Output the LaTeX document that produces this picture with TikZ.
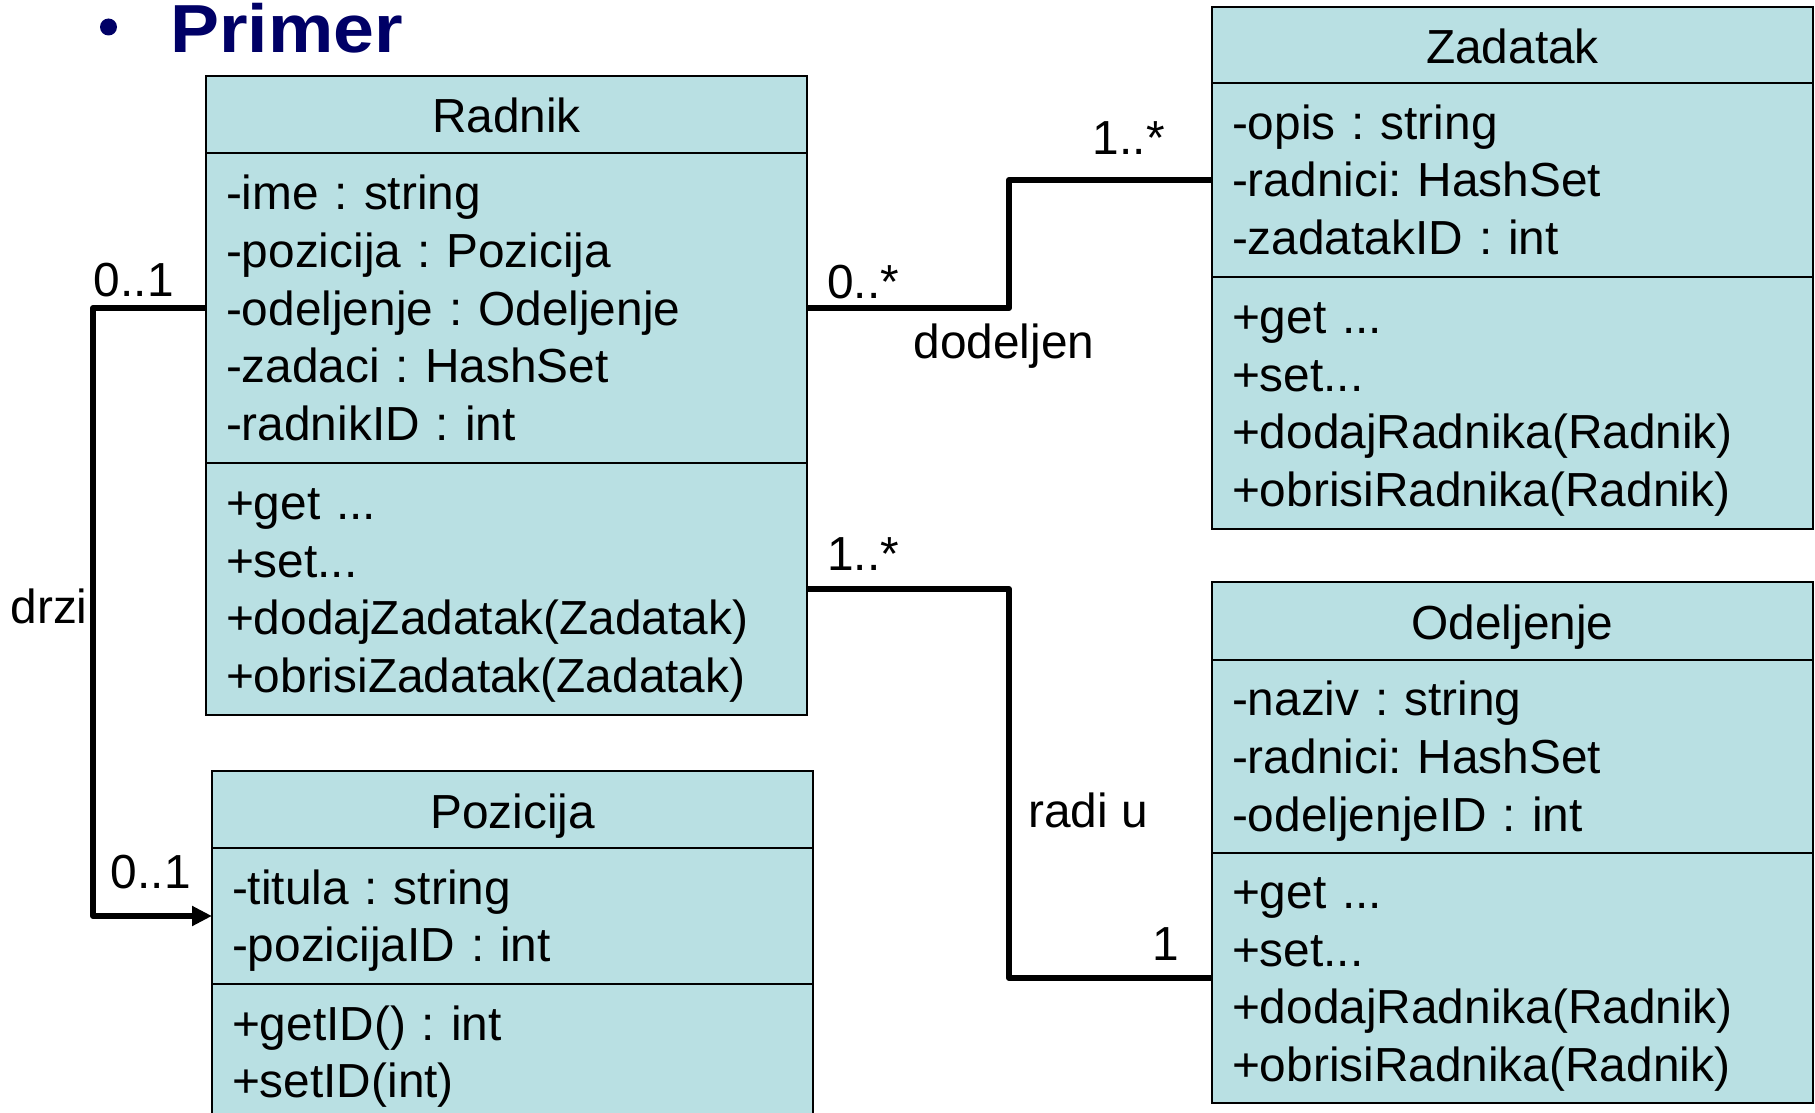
\documentclass[tikz,border=0pt]{standalone}
\usepackage{fontspec}
\setmainfont{Liberation Sans}
\usepackage{graphicx}
\usetikzlibrary{arrows.meta}
\definecolor{classblue}{RGB}{185,224,227}
\definecolor{titlenavy}{RGB}{0,0,102}
\newcommand{\bodystrut}{\rule[-5.5pt]{0pt}{28pt}}
\newcommand{\headstrut}{\rule[-5.5pt]{0pt}{29.5pt}}
\frenchspacing

\begin{document}
\begin{tikzpicture}[x=0.5pt,y=-0.5pt,
      txt/.style={font=\fontsize{23.9}{28.8}\selectfont},
      head/.style={txt,draw=black,line width=1pt,fill=classblue,anchor=north west,minimum width=300.5pt,inner sep=0pt,outer sep=0pt,
                   execute at begin node=\headstrut},
      body/.style={txt,draw=black,line width=1pt,fill=classblue,anchor=north west,minimum width=300.5pt,inner sep=0pt,outer sep=0pt,
                   align=left,text width=280.5pt,inner xsep=10pt,
                   execute at begin node=\bodystrut,execute at end node=\bodystrut},
      assoc/.style={draw=black,line width=3pt,line join=round},
      mult/.style={txt,inner sep=0pt}]
      \useasboundingbox (0,0) rectangle (1815,1113);

      \node[circle,fill=titlenavy,inner sep=0pt,minimum size=8.5pt] (bullet) at (108.5,27) {};
      \node[anchor=base west,inner sep=0pt,text=titlenavy,font=\fontsize{34}{40}\selectfont\bfseries] (title) at (170,53) {\scalebox{1.08}[1]{Primer}};

      \coordinate (radnikNW) at (206,76);
      \coordinate (pozicijaNW) at (212,771);
      \coordinate (zadatakNW) at (1212,7);
      \coordinate (odeljenjeNW) at (1212,582);

      \node[head,minimum height=38.5pt] (radnik) at (radnikNW) {Radnik};
      \node[body,minimum height=155pt] (radnikAttr) at (radnik.south west) {-ime : string\\-pozicija : Pozicija\\-odeljenje : Odeljenje\\-zadaci : HashSet\\-radnikID : int};
      \node[body,minimum height=126pt] (radnikMeth) at (radnikAttr.south west) {+get ...\\+set...\\+dodajZadatak(Zadatak)\\+obrisiZadatak(Zadatak)};

      \node[head,minimum height=38.5pt] (pozicija) at (pozicijaNW) {Pozicija};
      \node[body,minimum height=68pt] (pozicijaAttr) at (pozicija.south west) {-titula : string\\-pozicijaID : int};
      \node[body,minimum height=68pt] (pozicijaMeth) at (pozicijaAttr.south west) {+getID() : int\\+setID(int)};

      \node[head,minimum height=38pt] (zadatak) at (zadatakNW) {Zadatak};
      \node[body,minimum height=97pt] (zadatakAttr) at (zadatak.south west) {-opis : string\\-radnici: HashSet\\-zadatakID : int};
      \node[body,minimum height=126pt] (zadatakMeth) at (zadatakAttr.south west) {+get ...\\+set...\\+dodajRadnika(Radnik)\\+obrisiRadnika(Radnik)};

      \node[head,minimum height=39pt] (odeljenje) at (odeljenjeNW) {Odeljenje};
      \node[body,minimum height=96.5pt] (odeljenjeAttr) at (odeljenje.south west) {-naziv : string\\-radnici: HashSet\\-odeljenjeID : int};
      \node[body,minimum height=125pt] (odeljenjeMeth) at (odeljenjeAttr.south west) {+get ...\\+set...\\+dodajRadnika(Radnik)\\+obrisiRadnika(Radnik)};

      \coordinate (bendRight) at (1009,0);
      \coordinate (bendLeft) at (93,0);
      \draw[assoc] (radnikAttr.east) -- (radnikAttr.east -| bendRight) |- (zadatakAttr.west);
      \draw[assoc] (radnikMeth.east) -- (radnikMeth.east -| bendRight) |- (odeljenjeMeth.west);
      \draw[assoc,-{Triangle[length=10pt,width=9.5pt]}] (radnikAttr.west) -- (radnikAttr.west -| bendLeft) |- (pozicijaAttr.west);

      \node[mult,anchor=base east] (multRadPoz) at ([xshift=-16pt,yshift=6pt]radnikAttr.west) {0..1};
      \node[mult,anchor=base east] (multPozRad) at ([xshift=-10.5pt,yshift=14pt]pozicijaAttr.west) {0..1};
      \node[mult,anchor=base east] (drzi) at (88,623) {drzi};
      \node[mult,anchor=base west] (multRadZad) at ([xshift=10pt,yshift=5pt]radnikAttr.east) {0..*};
      \node[mult,anchor=base east] (multZadRad) at ([xshift=-23.5pt,yshift=12.5pt]zadatakAttr.west) {1..*};
      \node[mult,anchor=base] (dodeljen) at (1004,358) {dodeljen};
      \node[mult,anchor=base west] (multRadOdj) at ([xshift=10pt,yshift=9.5pt]radnikMeth.east) {1..*};
      \node[mult,anchor=base west] (radiU) at (1028,827) {radi u};
      \node[mult,anchor=base east] (multOdjRad) at ([xshift=-16.5pt,yshift=9pt]odeljenjeMeth.west) {1};
\end{tikzpicture}
\end{document}
